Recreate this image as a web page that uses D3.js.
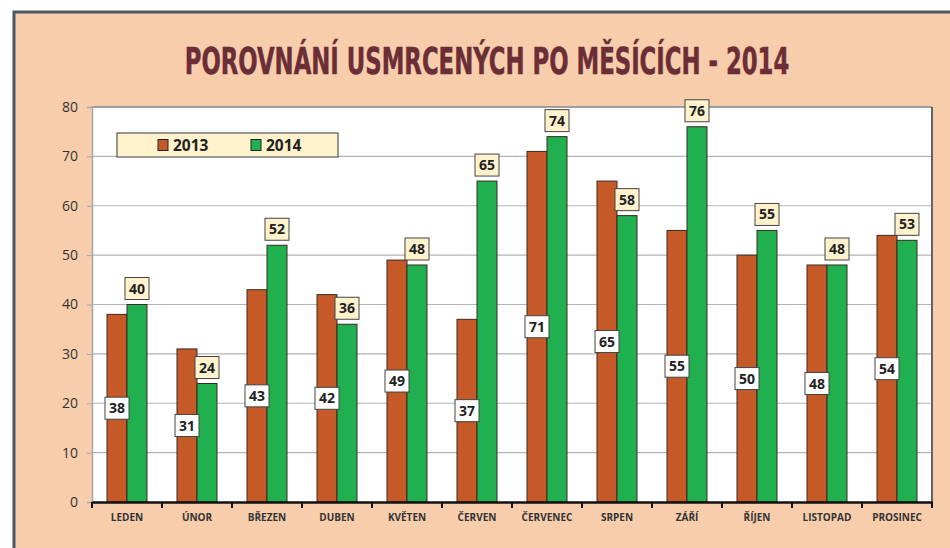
<!DOCTYPE html>
<html><head><meta charset="utf-8">
<script src="https://cdn.jsdelivr.net/npm/d3@7"></script>
<style>
html,body{margin:0;padding:0;background:#fff;}
svg{display:block;}
</style></head>
<body>
<script>
const months = ["LEDEN","ÚNOR","BŘEZEN","DUBEN","KVĚTEN","ČERVEN","ČERVENEC","SRPEN","ZÁŘÍ","ŘÍJEN","LISTOPAD","PROSINEC"];
const values2013 = [38,31,43,42,49,37,71,65,55,50,48,54];
const values2014 = [40,24,52,36,48,65,74,58,76,55,48,53];
const seriesNames = ["2013","2014"];
const yTicks = [0,10,20,30,40,50,60,70,80];
const titleText = "POROVNÁNÍ USMRCENÝCH PO MĚSÍCÍCH - 2014";

const W = 950, H = 548;
const colors = {"2013":"#C55A28","2014":"#21B04F"};
const svg = d3.select("body").append("svg").attr("width",W).attr("height",H);

// outer frame
svg.append("rect").attr("x",14).attr("y",12).attr("width",W+20).attr("height",H+20)
  .attr("fill","#F8CDAC").attr("stroke","#4B5863").attr("stroke-width",3);

// title
const title = svg.append("text").attr("x",487).attr("y",74).attr("text-anchor","middle")
  .attr("font-family","'DejaVu Sans Condensed','DejaVu Sans',sans-serif").attr("font-weight","bold")
  .attr("font-size",37).attr("fill","#6B2E37").attr("stroke","#6B2E37").attr("stroke-width",0.5)
  .text(titleText);
const tl = title.node().getComputedTextLength();
const targetW = 605;
title.attr("transform",`translate(487,0) scale(${targetW/tl},1) translate(-487,0)`);

const plot = {x0:92, x1:932, y0:107, y1:502};
const x = d3.scaleBand().domain(months).range([plot.x0,plot.x1]).paddingInner(0).paddingOuter(0);
const y = d3.scaleLinear().domain([0,80]).range([plot.y1,plot.y0]);
const xs = d3.scaleBand().domain(seriesNames).range([0,x.bandwidth()]).paddingInner(0).paddingOuter(0.75);

// plot bg
svg.append("rect").attr("x",plot.x0).attr("y",plot.y0).attr("width",plot.x1-plot.x0).attr("height",plot.y1-plot.y0)
  .attr("fill","#fff");

// gridlines
svg.append("g").selectAll("line").data(yTicks.filter(d=>d>0)).join("line")
  .attr("x1",plot.x0).attr("x2",plot.x1).attr("y1",d=>y(d)).attr("y2",d=>y(d))
  .attr("stroke","#B4B4B4").attr("stroke-width",1.2);

// plot border top/right
svg.append("line").attr("x1",plot.x0).attr("x2",plot.x1).attr("y1",plot.y0).attr("y2",plot.y0).attr("stroke","#8A9096").attr("stroke-width",1.5);
svg.append("line").attr("x1",plot.x1).attr("x2",plot.x1).attr("y1",plot.y0).attr("y2",plot.y1).attr("stroke","#5E666E").attr("stroke-width",2);

// y axis
const yAxis = svg.append("g").attr("transform",`translate(${plot.x0},0)`)
  .call(d3.axisLeft(y).tickValues(yTicks).tickSize(5).tickPadding(9));
yAxis.select(".domain").attr("stroke","#A0A8B0").attr("stroke-width",1.5);
yAxis.selectAll(".tick line").attr("stroke","#A0A8B0");
yAxis.selectAll("text").attr("font-family","'Open Sans',sans-serif").attr("font-size",14).attr("fill","#333");

// bars
const data = months.map((m,i)=>({m, vals:[{s:"2013",v:values2013[i]},{s:"2014",v:values2014[i]}]}));
const groups = svg.append("g").selectAll("g").data(data).join("g")
  .attr("transform",d=>`translate(${x(d.m)},0)`);
groups.selectAll("rect").data(d=>d.vals).join("rect")
  .attr("x",d=>xs(d.s)).attr("width",xs.bandwidth())
  .attr("y",d=>y(d.v)).attr("height",d=>y(0)-y(d.v))
  .attr("fill",d=>colors[d.s]).attr("stroke","#3A2A22").attr("stroke-width",1);

// x axis
const xAxis = svg.append("g").attr("transform",`translate(0,${plot.y1})`)
  .call(d3.axisBottom(x).tickSize(0).tickPadding(12));
xAxis.select(".domain").attr("stroke","#111").attr("stroke-width",2.5);
xAxis.selectAll("text").attr("font-family","'Open Sans',sans-serif").attr("font-weight","bold")
  .attr("font-size",10).attr("fill","#333");
svg.append("g").selectAll("line").data(months.concat(["end"])).join("line")
  .attr("x1",(d,i)=>plot.x0+i*x.bandwidth()).attr("x2",(d,i)=>plot.x0+i*x.bandwidth())
  .attr("y1",plot.y1).attr("y2",plot.y1+6).attr("stroke","#111").attr("stroke-width",2);

// labels
function label(g, cx, cy, text, fill){
  const bw = 24, bh = 22;
  g.append("rect").attr("x",cx-bw/2).attr("y",cy-bh/2).attr("width",bw).attr("height",bh)
    .attr("fill",fill).attr("stroke","#444").attr("stroke-width",1);
  g.append("text").attr("x",cx).attr("y",cy).attr("dy","0.36em").attr("text-anchor","middle")
    .attr("font-family","'Open Sans',sans-serif").attr("font-weight","bold").attr("font-size",14)
    .attr("fill","#222").text(text);
}
const lg = svg.append("g");
data.forEach(d=>{
  const b = x(d.m);
  const v13 = d.vals[0].v, v14 = d.vals[1].v;
  label(lg, b+xs("2013")+xs.bandwidth()/2, (y(v13)+y(0))/2, v13, "#fff");
  label(lg, b+xs("2014")+xs.bandwidth()/2, y(v14)-16, v14, "#FFF2CC");
});

// legend
const leg = svg.append("g");
leg.append("rect").attr("x",117).attr("y",133).attr("width",221).attr("height",24)
  .attr("fill","#FFF2CC").attr("stroke","#555").attr("stroke-width",1.2);
const legX = [158,251];
seriesNames.forEach((s,i)=>{
  leg.append("rect").attr("x",legX[i]).attr("y",139.5).attr("width",10).attr("height",11)
    .attr("fill",colors[s]).attr("stroke","#222").attr("stroke-width",1);
  leg.append("text").attr("x",legX[i]+15).attr("y",145).attr("dy","0.36em")
    .attr("font-family","'Open Sans',sans-serif").attr("font-weight","bold").attr("font-size",15.5)
    .attr("fill","#222").text(s);
});
</script>
</body></html>
